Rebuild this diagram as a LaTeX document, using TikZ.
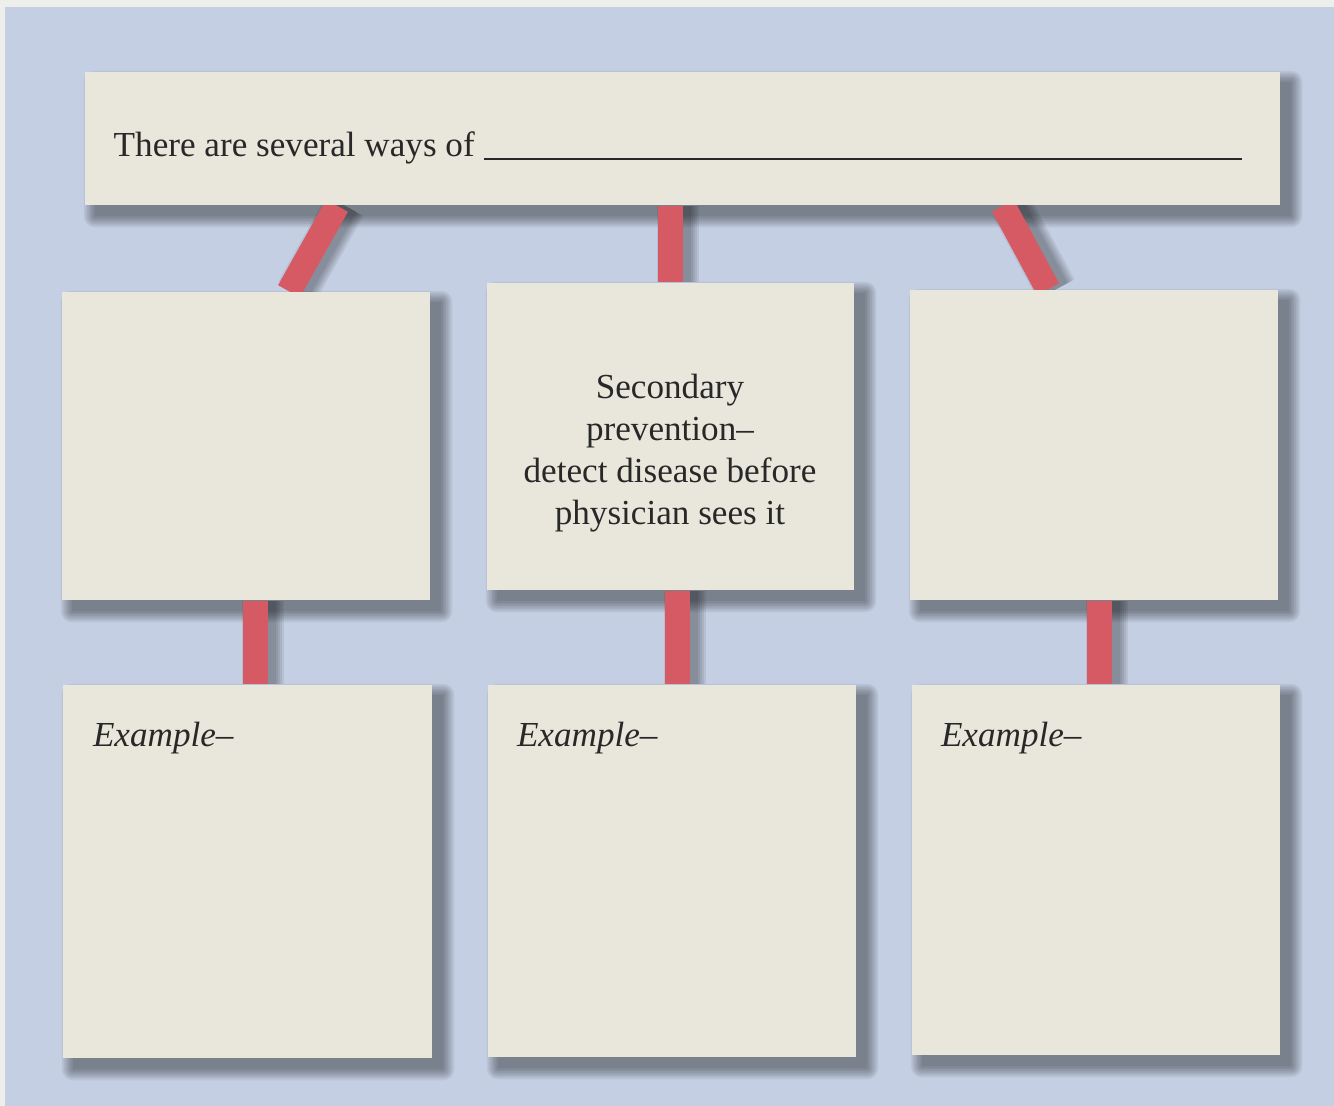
\documentclass[tikz,border=0pt]{standalone}
\usepackage{fontspec}
\setmainfont{Liberation Serif}
\usetikzlibrary{backgrounds}
\definecolor{bgblue}{RGB}{196,207,227}
\definecolor{paper}{RGB}{233,231,219}
\definecolor{linkred}{RGB}{214,90,100}
\definecolor{ink}{RGB}{40,40,40}
\definecolor{rim}{RGB}{238,238,234}
\begin{document}
\begin{tikzpicture}[
  card/.style={fill=paper, inner sep=0pt},
  link/.style={draw=linkred, line width=0.25cm},
  linkshade/.style={draw=black, opacity=0.07, line width=#1},
  softshade/.style={fill=black, opacity=0.055},
  txt/.style={text=ink, font=\fontsize{10}{11.9}\selectfont}
]
\useasboundingbox (0,0) rectangle (13.34,-11.06);

% cards
\node[card, minimum width=11.95cm, minimum height=1.33cm] (ways) at (6.825,-1.385) {};
\node[card, minimum width=3.68cm, minimum height=3.08cm] (prevA) at (2.46,-4.46) {};
\node[card, minimum width=3.67cm, minimum height=3.07cm] (prevB) at (6.705,-4.365) {};
\node[card, minimum width=3.68cm, minimum height=3.10cm] (prevC) at (10.94,-4.45) {};
\node[card, minimum width=3.69cm, minimum height=3.73cm] (exA) at (2.475,-8.715) {};
\node[card, minimum width=3.68cm, minimum height=3.72cm] (exB) at (6.72,-8.71) {};
\node[card, minimum width=3.68cm, minimum height=3.70cm] (exC) at (10.96,-8.70) {};

% texts
\node[txt, anchor=base west, inner sep=0pt] (waysText) at (1.13,-1.57) {There are several ways of};
\draw[ink, line width=0.5pt] ([xshift=0.09cm,yshift=-0.02cm]waysText.base east) -- ([yshift=-0.02cm]12.42,0 |- waysText.base);

\node[txt, align=center, inner sep=0pt] (prevBText) at (6.70,-4.53)
  {Secondary\\prevention–\\detect disease before\\physician sees it};

\node[txt, anchor=west, inner sep=0pt] (exAText) at ([xshift=0.30cm,yshift=-0.54cm]exA.north west) {\itshape Example–};
\node[txt, anchor=west, inner sep=0pt] (exBText) at ([xshift=0.29cm,yshift=-0.54cm]exB.north west) {\itshape Example–};
\node[txt, anchor=west, inner sep=0pt] (exCText) at ([xshift=0.29cm,yshift=-0.54cm]exC.north west) {\itshape Example–};

\begin{pgfonlayer}{background}
\fill[rim] (0,0) rectangle (13.34,-11.06);
\fill[bgblue] (0.05,-0.07) rectangle (13.34,-11.06);

% soft shadows
\foreach \n in {ways,prevA,prevB,prevC,exA,exB,exC}
  \foreach \i in {0,...,7}
    \fill[softshade, rounded corners=\i*0.45pt]
      ([xshift=3pt-\i*0.45pt,yshift=-3pt-\i*0.45pt]\n.south west)
      rectangle ([xshift=3pt+\i*0.45pt,yshift=-3pt+\i*0.45pt]\n.north east);

% connectors
\foreach \sx/\ex/\src/\dst in {3.37/2.89/ways/prevA, 6.70/6.70/ways/prevB, 10.03/10.48/ways/prevC,
                               2.55/2.55/prevA/exA, 6.77/6.77/prevB/exB, 10.99/10.99/prevC/exC} {
  \foreach \w in {0.26,0.30,0.34,0.38,0.42}
    \draw[linkshade=\w cm] ([xshift=0.08cm]\sx,0 |- \src.south) -- ([xshift=0.08cm]\ex,0 |- \dst.north);
  \draw[link] (\sx,0 |- \src.south) -- (\ex,0 |- \dst.north);
}
\end{pgfonlayer}
\end{tikzpicture}
\end{document}
